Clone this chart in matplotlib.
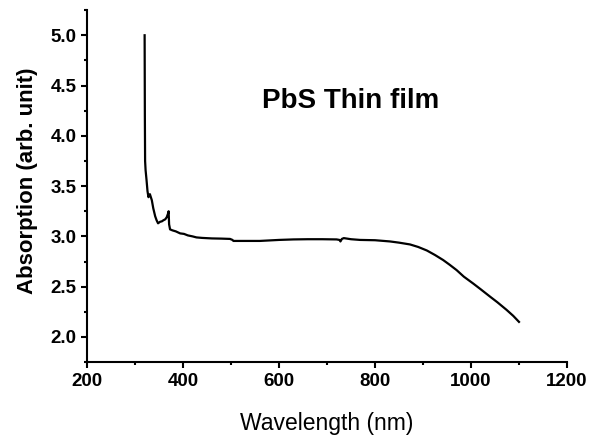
import matplotlib
matplotlib.use("Agg")
import matplotlib.pyplot as plt
from matplotlib.ticker import MultipleLocator, FormatStrFormatter

plt.rcParams['font.family'] = ['Liberation Sans', 'DejaVu Sans']

# wavelength (nm) and absorption (arb. unit)
wavelength = [320, 320.5, 321, 322, 324, 326, 328, 331, 335, 338, 342, 345, 348, 352,
              356, 359, 363, 366, 369, 370, 371, 373, 378, 385, 394, 402, 410, 420,
              428, 440, 460, 480, 498, 503, 505, 520, 540, 560, 580, 600, 630, 660,
              690, 720, 726, 728, 731, 735, 750, 769, 800, 831, 850, 873, 890, 908,
              925, 942, 955, 970, 985, 1005, 1020, 1040, 1055, 1074, 1088, 1100]
absorption = [5.0, 4.2, 3.75, 3.66, 3.56, 3.45, 3.39, 3.42, 3.36, 3.28, 3.2, 3.16, 3.13, 3.145,
              3.15, 3.16, 3.17, 3.19, 3.23, 3.25, 3.12, 3.07, 3.06, 3.05, 3.03, 3.025, 3.01, 3.0,
              2.99, 2.985, 2.98, 2.978, 2.975, 2.965, 2.955, 2.955, 2.955, 2.955, 2.96, 2.965, 2.97, 2.972,
              2.972, 2.97, 2.965, 2.95, 2.975, 2.983, 2.972, 2.965, 2.962, 2.95, 2.938, 2.92, 2.895, 2.86,
              2.815, 2.765, 2.72, 2.665, 2.6, 2.53, 2.475, 2.40, 2.345, 2.27, 2.21, 2.15]

fig = plt.figure(figsize=(5.9, 4.4), dpi=100)
ax = fig.add_axes([0.1475, 0.177, 0.8135, 0.8])

ax.plot(wavelength, absorption, color='black', linewidth=1.6)

ax.set_xlim(200, 1200)
ax.set_ylim(1.75, 5.25)
ax.xaxis.set_major_locator(MultipleLocator(200))
ax.xaxis.set_minor_locator(MultipleLocator(100))
ax.yaxis.set_major_locator(MultipleLocator(0.5))
ax.yaxis.set_minor_locator(MultipleLocator(0.25))
ax.yaxis.set_major_formatter(FormatStrFormatter('%.1f'))

for side in ['top', 'right']:
    ax.spines[side].set_visible(False)
for side in ['left', 'bottom']:
    ax.spines[side].set_linewidth(1.5)

ax.tick_params(which='major', direction='out', length=4.5, width=1.5, pad=3)
ax.tick_params(which='minor', direction='out', length=2.5, width=1.5)
for lbl in ax.get_xticklabels() + ax.get_yticklabels():
    lbl.set_fontweight('bold')
    lbl.set_fontsize(13.5)

ax.set_xlabel("Wavelength (nm)", fontsize=16.5, va='center')
ax.xaxis.set_label_coords(0.499, -0.173)
ax.set_ylabel("Absorption (arb. unit)", fontsize=16, fontweight='bold', va='center')
ax.yaxis.set_label_coords(-0.125, 0.515)

ax.text(750, 4.274, "PbS Thin film", fontsize=20, fontweight='bold', ha='center', va='baseline')

fig.savefig("out.png", dpi=100)
